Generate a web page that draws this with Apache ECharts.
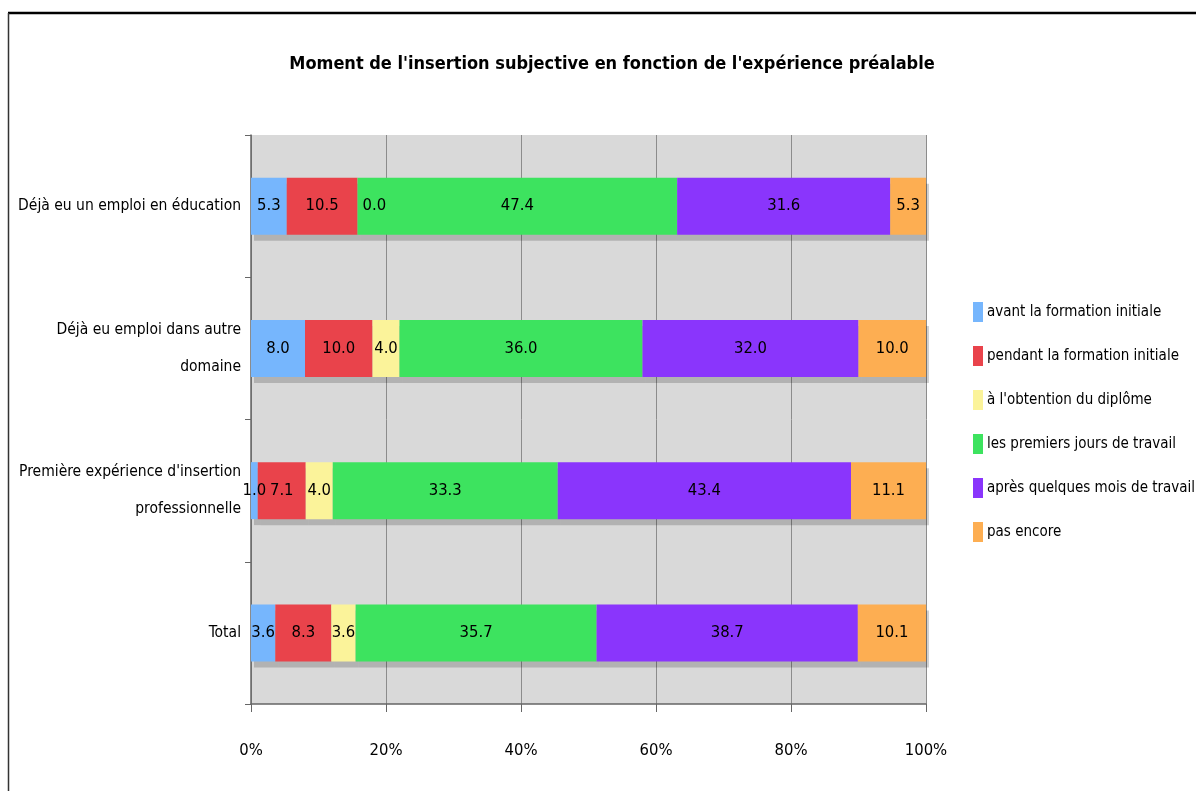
<!DOCTYPE html>
<html><head><meta charset="utf-8">
<script src="https://cdn.jsdelivr.net/npm/echarts@6/dist/echarts.min.js"></script>
<style>html,body{margin:0;padding:0;background:#fff}#c{width:1196px;height:791px}</style>
</head><body><div id="c"></div>
<script>
const categories = ["Déjà eu un emploi en éducation", "Déjà eu emploi dans autre\ndomaine", "Première expérience d'insertion\nprofessionnelle", "Total"];
const seriesNames = ["avant la formation initiale", "pendant la formation initiale", "à l'obtention du diplôme", "les premiers jours de travail", "après quelques mois de travail", "pas encore"];
const avant = [5.3, 8.0, 1.0, 3.6];
const pendant = [10.5, 10.0, 7.1, 8.3];
const obtention = [0.0, 4.0, 4.0, 3.6];
const premiers = [47.4, 36.0, 33.3, 35.7];
const apres = [31.6, 32.0, 43.4, 38.7];
const pasEncore = [5.3, 10.0, 11.1, 10.1];
const xTicks = [0, 20, 40, 60, 80, 100];

const values = [avant, pendant, obtention, premiers, apres, pasEncore];
const colors = ["#76b6fd", "#e9434b", "#fbf39a", "#3de35f", "#8a35fc", "#fdae52"];
const FONT = "'DejaVu Sans Condensed','DejaVu Sans',sans-serif";
const sums = categories.map((c, i) => values.reduce((s, v) => s + v[i], 0));

const chart = echarts.init(document.getElementById('c'));
chart.setOption({
  animation: false,
  backgroundColor: '#fff',
  textStyle: {fontFamily: FONT},
  graphic: [
    {type: 'line', shape: {x1: 8, y1: 13, x2: 1196, y2: 13}, style: {stroke: '#000', lineWidth: 2.5}, silent: true},
    {type: 'line', shape: {x1: 8.5, y1: 13, x2: 8.5, y2: 791}, style: {stroke: '#333', lineWidth: 1.5}, silent: true}
  ],
  title: {text: "Moment de l'insertion subjective en fonction de l'expérience préalable", left: 607, textAlign: 'center', top: 50,
    textStyle: {fontFamily: FONT, fontSize: 18, fontWeight: 'bold', color: '#000'}},
  legend: {orient: 'vertical', left: 968, top: 297, itemWidth: 10, itemHeight: 20, itemGap: 24, icon: 'rect',
    textStyle: {fontFamily: FONT, fontSize: 15, color: '#000', padding: [0, 0, 0, -1]}},
  grid: {left: 251, right: 270, top: 135, bottom: 87, show: true, backgroundColor: '#d9d9d9', borderWidth: 0,
    containLabel: false, outerBoundsMode: 'none'},
  xAxis: {type: 'value', min: xTicks[0], max: xTicks[xTicks.length - 1], interval: 20,
    axisLine: {show: true, lineStyle: {color: '#666', width: 1.5}},
    axisTick: {show: true, length: 8, lineStyle: {color: '#666'}},
    splitLine: {show: true, lineStyle: {color: '#8c8c8c', width: 1}},
    axisLabel: {formatter: '{value}%', fontFamily: FONT, fontSize: 16.5, color: '#000', margin: 38}},
  yAxis: {type: 'category', data: categories, inverse: true,
    axisLine: {show: true, lineStyle: {color: '#666', width: 1.5}},
    axisTick: {show: true, length: 6, lineStyle: {color: '#666'}},
    axisLabel: {fontFamily: FONT, fontSize: 15.5, color: '#000', margin: 10, lineHeight: 37, align: 'right'}},
  series: seriesNames.map((name, si) => ({
    name, type: 'bar', stack: 'all', barWidth: 57,
    itemStyle: {color: colors[si], shadowColor: 'rgba(0,0,0,0.18)', shadowOffsetX: 3, shadowOffsetY: 6, shadowBlur: 0},
    label: {show: true, position: 'inside', color: '#000', fontFamily: FONT, fontSize: 16.5,
      formatter: p => values[si][p.dataIndex].toFixed(1)},
    data: values[si].map((v, i) => {
      const d = {value: v / sums[i] * 100};
      if (v === 0) d.label = {position: 'right', distance: 5};
      return d;
    })
  }))
});
</script></body></html>
